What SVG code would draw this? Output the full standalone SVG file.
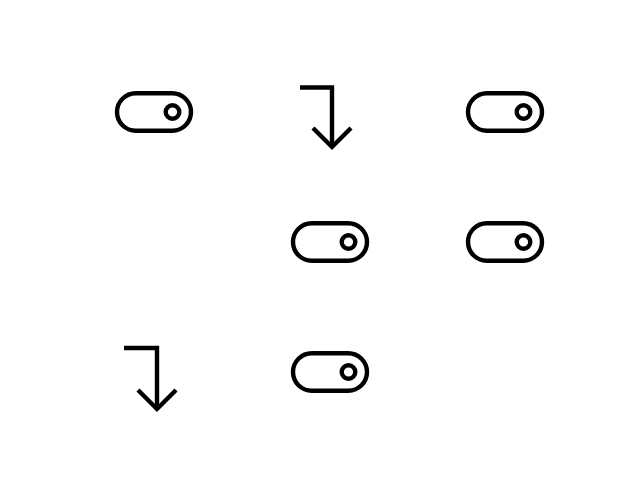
<svg xmlns="http://www.w3.org/2000/svg" width="640" height="480" viewBox="0 0 640 480">
<defs>
<style>
.s{fill:none;stroke:#000;stroke-width:4.4;stroke-linejoin:miter;stroke-linecap:butt}
</style>
<g id="toggle">
<rect class="s" x="-37" y="-18.8" width="74" height="37.6" rx="18.8"/>
<circle class="s" cx="18.5" cy="0" r="6.8"/>
</g>
</defs>
<rect width="640" height="480" fill="#fff"/>
<g id="toggle-1"><use href="#toggle" x="154" y="112"/></g>
<g id="toggle-2"><use href="#toggle" x="505" y="112"/></g>
<g id="toggle-3"><use href="#toggle" x="330" y="242"/></g>
<g id="toggle-4"><use href="#toggle" x="505" y="242"/></g>
<g id="toggle-5"><use href="#toggle" x="330" y="372"/></g>
<g id="arrow-1">
<path class="s" d="M300,87.5 H332 V147"/>
<path class="s" d="M313,128 L332,147 L351,128"/>
</g>
<g id="arrow-2">
<path class="s" d="M124,348 H157 V409"/>
<path class="s" d="M138,390 L157,409 L176,390"/>
</g>
</svg>
